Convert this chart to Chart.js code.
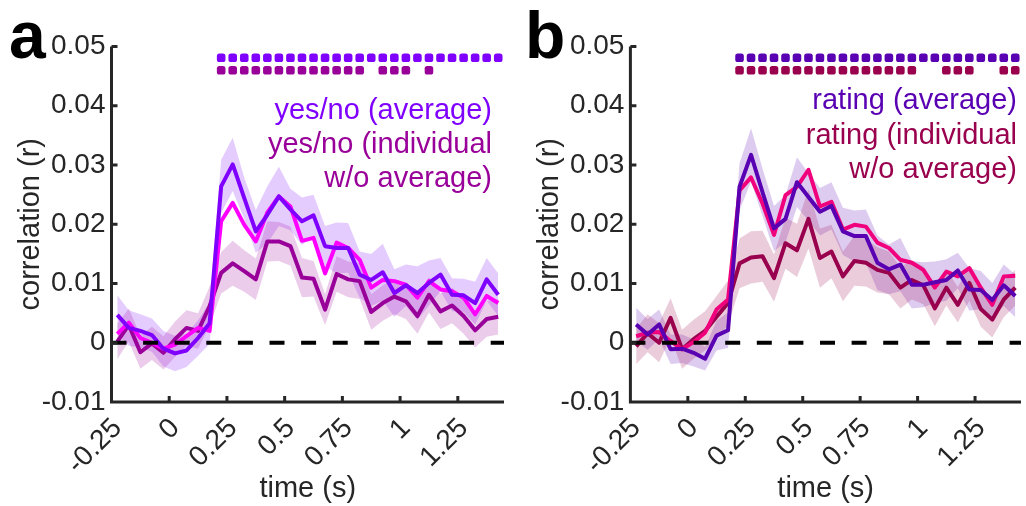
<!DOCTYPE html>
<html>
<head>
<meta charset="utf-8">
<script src="https://cdn.jsdelivr.net/npm/chart.js@4.4.1/dist/chart.umd.min.js"></script>
<style>
    html, body { margin: 0; padding: 0; background: #fff; }
    #wrap { position: relative; width: 1026px; height: 506px; }
    canvas { position: absolute; top: 0; }
    #chart-a { left: 0; }
    #chart-b { left: 513px; }
</style>
</head>
<body>
<div id="wrap">
    <canvas id="chart-a" width="513" height="506"></canvas>
    <canvas id="chart-b" width="513" height="506"></canvas>
</div>
<script>
// time bins (s)
const times = [-0.225, -0.175, -0.125, -0.075, -0.025, 0.025, 0.075, 0.125, 0.175, 0.225, 0.275, 0.325,
    0.375, 0.425, 0.475, 0.525, 0.575, 0.625, 0.675, 0.725, 0.775, 0.825, 0.875, 0.925, 0.975, 1.025,
    1.075, 1.125, 1.175, 1.225, 1.275, 1.325, 1.375, 1.425];

const xTicks = [-0.25, 0, 0.25, 0.5, 0.75, 1, 1.25];
const xTickLabels = ['-0.25', '0', '0.25', '0.5', '0.75', '1', '1.25'];
const yTicks = [-0.01, 0, 0.01, 0.02, 0.03, 0.04, 0.05];
const yTickLabels = ['-0.01', '0', '0.01', '0.02', '0.03', '0.04', '0.05'];
const xMin = -0.25, xMax = 1.45, yMin = -0.01, yMax = 0.05;

// panel a: yes/no
const aAvg = [0.0047, 0.0025, 0.0020, 0.0013, -0.0010, -0.0018, -0.0013, 0.0008, 0.0033, 0.0264, 0.0301, 0.0244,
    0.0188, 0.0216, 0.0247, 0.0225, 0.0205, 0.0215, 0.0163, 0.0160, 0.0160, 0.0115, 0.0106, 0.0119, 0.0084,
    0.0097, 0.0084, 0.0101, 0.0115, 0.0081, 0.0080, 0.0067, 0.0107, 0.0081];
const aAvgSem = [0.0033, 0.0030, 0.0028, 0.0028, 0.0030, 0.0030, 0.0028, 0.0030, 0.0035, 0.0045, 0.0045, 0.0035,
    0.0036, 0.0048, 0.0050, 0.0035, 0.0040, 0.0035, 0.0034, 0.0043, 0.0042, 0.0039, 0.0044, 0.0048, 0.0040,
    0.0035, 0.0045, 0.0038, 0.0028, 0.0028, 0.0028, 0.0036, 0.0036, 0.0036];
const aInd = [0.0015, 0.0034, 0.0008, 0.0000, -0.0010, -0.0003, 0.0011, 0.0025, 0.0020, 0.0205, 0.0236, 0.0199,
    0.0171, 0.0220, 0.0247, 0.0230, 0.0172, 0.0177, 0.0117, 0.0169, 0.0160, 0.0140, 0.0093, 0.0106, 0.0104,
    0.0098, 0.0076, 0.0104, 0.0090, 0.0087, 0.0076, 0.0048, 0.0079, 0.0067];
const aExc = [0.0002, 0.0030, -0.0016, -0.0001, -0.0017, 0.0006, 0.0025, 0.0020, 0.0062, 0.0118, 0.0134, 0.0121,
    0.0107, 0.0171, 0.0171, 0.0163, 0.0110, 0.0108, 0.0056, 0.0116, 0.0107, 0.0104, 0.0052, 0.0067, 0.0078,
    0.0070, 0.0045, 0.0081, 0.0053, 0.0063, 0.0045, 0.0021, 0.0040, 0.0044];
const aExcSem = [0.0030, 0.0028, 0.0028, 0.0028, 0.0028, 0.0030, 0.0030, 0.0030, 0.0033, 0.0035, 0.0038, 0.0035,
    0.0035, 0.0034, 0.0033, 0.0033, 0.0033, 0.0030, 0.0026, 0.0030, 0.0030, 0.0030, 0.0030, 0.0030, 0.0030,
    0.0030, 0.0030, 0.0030, 0.0030, 0.0030, 0.0030, 0.0029, 0.0030, 0.0030];
const aSigAvg = [0.225, 0.275, 0.325, 0.375, 0.425, 0.475, 0.525, 0.575, 0.625, 0.675, 0.725, 0.775, 0.825,
    0.875, 0.925, 0.975, 1.025, 1.075, 1.125, 1.175, 1.225, 1.275, 1.325, 1.375, 1.425];
const aSigExc = [0.225, 0.275, 0.325, 0.375, 0.425, 0.475, 0.525, 0.575, 0.625, 0.675, 0.725, 0.775, 0.825,
    0.925, 0.975, 1.025, 1.125];

// panel b: rating
const bAvg = [0.0031, 0.0014, 0.0031, -0.0011, -0.0010, -0.0017, -0.0027, 0.0012, 0.0021, 0.0263, 0.0317, 0.0254,
    0.0193, 0.0209, 0.0271, 0.0246, 0.0221, 0.0231, 0.0188, 0.0180, 0.0180, 0.0135, 0.0124, 0.0132, 0.0098,
    0.0098, 0.0102, 0.0106, 0.0122, 0.0090, 0.0089, 0.0072, 0.0097, 0.0079];
const bAvgSem = [0.0028, 0.0026, 0.0025, 0.0025, 0.0024, 0.0023, 0.0020, 0.0025, 0.0030, 0.0040, 0.0045, 0.0040,
    0.0038, 0.0040, 0.0042, 0.0040, 0.0040, 0.0040, 0.0040, 0.0043, 0.0045, 0.0046, 0.0042, 0.0045, 0.0040,
    0.0038, 0.0035, 0.0035, 0.0030, 0.0036, 0.0032, 0.0029, 0.0035, 0.0036];
const bInd = [0.0011, 0.0017, 0.0018, 0.0003, -0.0011, 0.0001, 0.0017, 0.0056, 0.0073, 0.0257, 0.0279, 0.0235,
    0.0182, 0.0249, 0.0263, 0.0292, 0.0230, 0.0238, 0.0191, 0.0199, 0.0196, 0.0169, 0.0160, 0.0140, 0.0135,
    0.0123, 0.0093, 0.0120, 0.0112, 0.0126, 0.0093, 0.0064, 0.0112, 0.0113];
const bExc = [-0.0006, 0.0016, 0.0000, 0.0042, -0.0011, 0.0006, 0.0020, 0.0044, 0.0067, 0.0134, 0.0144, 0.0146,
    0.0109, 0.0168, 0.0156, 0.0209, 0.0143, 0.0154, 0.0112, 0.0138, 0.0135, 0.0123, 0.0118, 0.0093, 0.0106,
    0.0097, 0.0058, 0.0093, 0.0064, 0.0101, 0.0057, 0.0039, 0.0073, 0.0093];
const bExcSem = [0.0030, 0.0032, 0.0033, 0.0033, 0.0033, 0.0033, 0.0033, 0.0035, 0.0038, 0.0042, 0.0044, 0.0043,
    0.0040, 0.0043, 0.0045, 0.0050, 0.0050, 0.0045, 0.0042, 0.0042, 0.0040, 0.0038, 0.0036, 0.0035, 0.0033,
    0.0032, 0.0030, 0.0030, 0.0030, 0.0030, 0.0030, 0.0030, 0.0030, 0.0030];
const bSigAvg = [0.225, 0.275, 0.325, 0.375, 0.425, 0.475, 0.525, 0.575, 0.625, 0.675, 0.725, 0.775, 0.825,
    0.875, 0.925, 0.975, 1.025, 1.075, 1.125, 1.175, 1.225, 1.275, 1.325, 1.375, 1.425];
const bSigExc = [0.225, 0.275, 0.325, 0.375, 0.425, 0.475, 0.525, 0.575, 0.625, 0.675, 0.725, 0.775, 0.825,
    0.875, 0.925, 0.975, 1.125, 1.175, 1.225, 1.375, 1.425];
const sigRowAvg = 0.0481, sigRowExc = 0.0460;

const ink = '#262626';
const fontFamily = '"Liberation Sans", Arial, Helvetica, sans-serif';

// MATLAB-like axes: left + bottom lines with inward ticks, plus panel letter and text legend
const matlabAxes = {
    id: 'matlabAxes',
    afterDraw(chart, args, opts) {
        const {ctx, chartArea: {left, right, top, bottom}, scales: {x, y}} = chart;
        ctx.save();
        ctx.strokeStyle = ink;
        ctx.lineWidth = 3;
        ctx.lineJoin = 'miter';
        ctx.beginPath();
        ctx.moveTo(left, top);
        ctx.lineTo(left, bottom);
        ctx.lineTo(right, bottom);
        xTicks.forEach(v => {
            const px = x.getPixelForValue(v);
            ctx.moveTo(px, bottom);
            ctx.lineTo(px, bottom - 6);
        });
        yTicks.forEach(v => {
            const py = y.getPixelForValue(v);
            ctx.moveTo(left, py);
            ctx.lineTo(left + 6, py);
        });
        ctx.stroke();

        ctx.fillStyle = '#000';
        ctx.font = 'bold 66px ' + fontFamily;
        ctx.textAlign = 'left';
        ctx.textBaseline = 'alphabetic';
        ctx.fillText(opts.letter, opts.letterX, 58);

        ctx.font = '29px ' + fontFamily;
        ctx.textAlign = 'right';
        ctx.textBaseline = 'middle';
        opts.lines.forEach(l => {
            ctx.fillStyle = l.color;
            ctx.fillText(l.text, opts.textRight, l.y);
        });
        ctx.restore();
    }
};

function buildPanel(canvasId, p) {
    const pts = (vals) => vals.map((v, i) => ({x: times[i], y: v}));
    const bound = (vals, sem, sign) => vals.map((v, i) => ({x: times[i], y: v + sign * sem[i]}));
    const dots = (ts, level) => ts.map(t => ({x: t, y: level}));
    const lineDs = (vals, color, order) => ({
        data: pts(vals), borderColor: color, borderWidth: 4, pointRadius: 0,
        borderJoinStyle: 'round', fill: false, order: order
    });
    const edgeDs = (data, fill, color, order) => ({
        data: data, borderWidth: 0, borderColor: 'rgba(0,0,0,0)', pointRadius: 0,
        fill: fill, backgroundColor: color, order: order
    });
    const dotDs = (data, color) => ({
        data: data, showLine: false, pointStyle: 'rectRounded', pointRadius: 5,
        pointBackgroundColor: color, pointBorderWidth: 0, order: 2
    });

    return new Chart(document.getElementById(canvasId), {
        type: 'line',
        data: {
            datasets: [
                edgeDs(bound(p.avg, p.avgSem, -1), false, 'rgba(0,0,0,0)', 10),
                edgeDs(bound(p.avg, p.avgSem, 1), '-1', p.avgBand, 10),
                edgeDs(bound(p.exc, p.excSem, -1), false, 'rgba(0,0,0,0)', 9),
                edgeDs(bound(p.exc, p.excSem, 1), '-1', p.excBand, 9),
                lineDs(p.exc, p.excColor, 6),
                lineDs(p.ind, p.indColor, 5),
                lineDs(p.avg, p.avgColor, 4),
                {
                    data: [{x: xMin, y: 0}, {x: xMax, y: 0}], borderColor: '#000', borderWidth: 4,
                    borderDash: [15, 16.6], pointRadius: 0, fill: false, order: 1
                },
                dotDs(dots(p.sigAvg, sigRowAvg), p.avgColor),
                dotDs(dots(p.sigExc, sigRowExc), p.excColor)
            ]
        },
        options: {
            responsive: false,
            animation: false,
            events: [],
            layout: {padding: {left: 0, top: 46.5, right: p.rightPad, bottom: 0}},
            plugins: {
                legend: {display: false},
                tooltip: {enabled: false},
                matlabAxes: {letter: p.letter, letterX: p.letterX, textRight: p.textRight, lines: p.lines}
            },
            scales: {
                x: {
                    type: 'linear', min: xMin, max: xMax,
                    afterBuildTicks: s => { s.ticks = xTicks.map(v => ({value: v})); },
                    afterFit: s => { s.height = 104; },
                    grid: {display: false, drawTicks: false},
                    border: {display: false},
                    ticks: {
                        minRotation: 45, maxRotation: 45, autoSkip: false, padding: 10, labelOffset: 6,
                        color: ink, font: {family: fontFamily, size: 28},
                        callback: (v, i) => xTickLabels[i]
                    },
                    title: {display: true, text: 'time (s)', color: ink, padding: 0, font: {family: fontFamily, size: 29}}
                },
                y: {
                    type: 'linear', min: yMin, max: yMax,
                    afterBuildTicks: s => { s.ticks = yTicks.map(v => ({value: v})); },
                    afterFit: s => { s.width = p.yAxisWidth; },
                    grid: {display: false, drawTicks: false},
                    border: {display: false},
                    ticks: {
                        padding: 6, color: ink, font: {family: fontFamily, size: 28},
                        callback: (v, i) => yTickLabels[i]
                    },
                    title: {
                        display: true, text: 'correlation (r)', color: ink,
                        padding: {top: p.yTitlePad, bottom: 0}, font: {family: fontFamily, size: 29}
                    }
                }
            }
        },
        plugins: [matlabAxes]
    });
}

buildPanel('chart-a', {
    avg: aAvg, avgSem: aAvgSem, ind: aInd, exc: aExc, excSem: aExcSem,
    sigAvg: aSigAvg, sigExc: aSigExc,
    avgColor: '#7F00FF', indColor: '#FF00FF', excColor: '#990099',
    avgBand: 'rgba(127,0,255,0.2)', excBand: 'rgba(153,0,153,0.2)',
    yAxisWidth: 111.5, rightPad: 9, yTitlePad: 14,
    letter: 'a', letterX: 9, textRight: 492,
    lines: [
        {text: 'yes/no (average)', color: '#7F00FF', y: 111},
        {text: 'yes/no (individual', color: '#990099', y: 145},
        {text: 'w/o average)', color: '#990099', y: 179}
    ]
});

buildPanel('chart-b', {
    avg: bAvg, avgSem: bAvgSem, ind: bInd, exc: bExc, excSem: bExcSem,
    sigAvg: bSigAvg, sigExc: bSigExc,
    avgColor: '#5900B3', indColor: '#F0007C', excColor: '#99004D',
    avgBand: 'rgba(89,0,179,0.2)', excBand: 'rgba(153,0,77,0.2)',
    yAxisWidth: 117.4, rightPad: 5, yTitlePad: 20,
    letter: 'b', letterX: 12, textRight: 504,
    lines: [
        {text: 'rating (average)', color: '#5900B3', y: 101},
        {text: 'rating (individual', color: '#99004D', y: 136},
        {text: 'w/o average)', color: '#99004D', y: 170}
    ]
});
</script>
</body>
</html>
